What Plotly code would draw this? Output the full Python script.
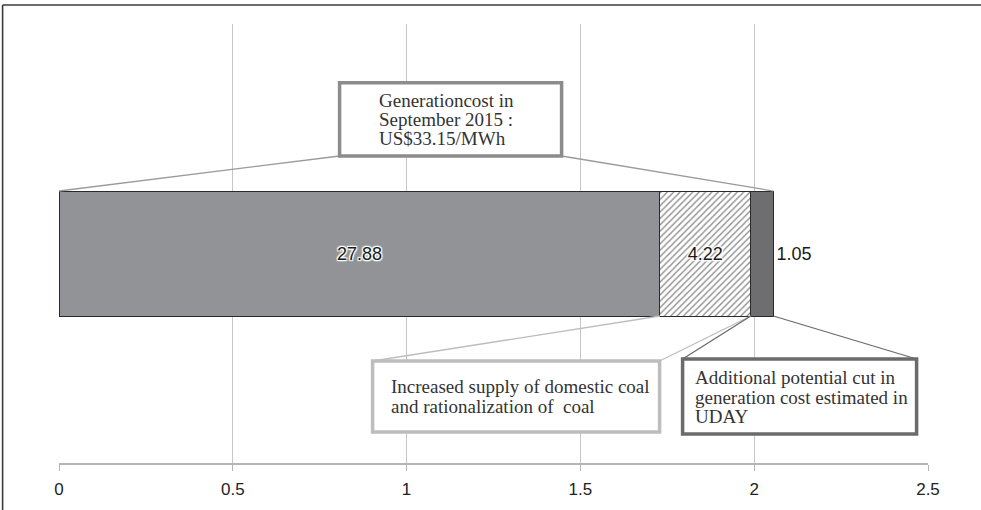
import plotly.graph_objects as go

# Generation cost breakdown (US$/MWh)
segment_names = [
    "Generation cost",
    "Increased supply of domestic coal and rationalization of coal",
    "Additional potential cut in generation cost estimated in UDAY",
]
segment_values = [27.88, 4.22, 1.05]
segment_labels = ["27.88", "4.22", "1.05"]
tick_values = [0, 0.5, 1, 1.5, 2, 2.5]
tick_labels = ["0", "0.5", "1", "1.5", "2", "2.5"]

# conversion from US$/MWh to the axis unit
AXIS_PER_USD_MWH = 0.062

W, H = 981, 510
M_L, M_R, M_T, M_B = 59.4, 52.6, 24, 47
PLOT_W = W - M_L - M_R
PLOT_H = H - M_T - M_B
X_MAX = 2.5


def px_x(px):
    return (px - M_L) / PLOT_W * X_MAX


def px_y(py):
    return (H - M_B - py) / PLOT_H


bar_y = 0.4772
bar_w = 0.2847
bar_top = bar_y + bar_w / 2
bar_bot = bar_y - bar_w / 2

scaled = [v * AXIS_PER_USD_MWH for v in segment_values]
ends = []
acc = 0.0
for s in scaled:
    acc += s
    ends.append(acc)

fig = go.Figure()

fills = ["#929396", "white", "#6e6e70"]
patterns = [None, dict(shape="/", fgcolor="#1a1a1a", bgcolor="white", size=4.5, solidity=0.3), None]
text_pos = ["inside", "inside", "outside"]
halo = ("1px 1px 1px white, -1px -1px 1px white, 1px -1px 1px white, "
        "-1px 1px 1px white, 0 0 2px white, 0 0 3px white")

for name, val, lab, fill, pat, tp in zip(segment_names, scaled, segment_labels, fills, patterns, text_pos):
    marker = dict(color=fill, line=dict(color="#2a2a2a", width=1))
    if pat:
        marker["pattern"] = pat
    fig.add_trace(go.Bar(
        name=name, orientation="h", x=[val], y=[bar_y], width=bar_w,
        marker=marker, text=[lab], textposition=tp,
        insidetextanchor="middle", constraintext="none",
        textfont=dict(family="Liberation Sans, Arial", size=18, color="#1a1a1a",
                      shadow=halo if tp == "inside" else "none"),
        outsidetextfont=dict(family="Liberation Sans, Arial", size=18, color="#1a1a1a"),
        hoverinfo="skip", showlegend=False, cliponaxis=False,
    ))

shapes = []

# callout boxes (pixel positions converted to axis units)
boxes = [
    dict(x0=340, x1=562, y0=82.7, y1=156, color="#8c8c8c"),
    dict(x0=373, x1=660, y0=361, y1=432, color="#bdbdbd"),
    dict(x0=683, x1=917, y0=359, y1=434, color="#6b6b6b"),
]

# leader lines from the boxes to the bar corners
leader = [
    (boxes[0]["x0"], boxes[0]["y1"], 0.0, bar_top, "#9a9a9a"),
    (boxes[0]["x1"], boxes[0]["y1"], ends[2], bar_top, "#9a9a9a"),
    (boxes[1]["x0"], boxes[1]["y0"], ends[0], bar_bot, "#bdbdbd"),
    (boxes[1]["x1"], boxes[1]["y0"], ends[1], bar_bot, "#bdbdbd"),
    (boxes[2]["x0"], boxes[2]["y0"], ends[1], bar_bot, "#6b6b6b"),
    (boxes[2]["x1"], boxes[2]["y0"], ends[2], bar_bot, "#6b6b6b"),
]
for bx, by, tx, ty, c in leader:
    shapes.append(dict(type="line", xref="x", yref="y", x0=px_x(bx), y0=px_y(by),
                       x1=tx, y1=ty, line=dict(color=c, width=1.3)))

for b in boxes:
    shapes.append(dict(type="rect", xref="x", yref="y",
                       x0=px_x(b["x0"]), x1=px_x(b["x1"]),
                       y0=px_y(b["y1"]), y1=px_y(b["y0"]),
                       fillcolor="white", line=dict(color=b["color"], width=3.5)))

# outer frame (top and left edges)
fx0 = (3 - M_L) / PLOT_W
fy0 = (H - M_B - 5) / PLOT_H
shapes.append(dict(type="line", xref="paper", yref="paper", x0=fx0, y0=fy0,
                   x1=(W + 5 - M_L) / PLOT_W, y1=fy0, line=dict(color="#3a3a3a", width=1.6)))
shapes.append(dict(type="line", xref="paper", yref="paper", x0=fx0, y0=fy0,
                   x1=fx0, y1=(H - M_B - H - 5) / PLOT_H, line=dict(color="#3a3a3a", width=1.6)))

serif = "Liberation Serif, Times New Roman, serif"
callout_lines = [
    (377.7, [(100, "Generationcost in"), (119, "September 2015 :"), (138, "US$33.15/MWh")]),
    (389, [(386, "Increased supply of domestic coal"), (406, "and rationalization of  coal")]),
    (693, [(377.5, "Additional potential cut in"), (397, "generation cost estimated in"), (416.5, "UDAY")]),
]
annotations = []
for lx, lines in callout_lines:
    for ly, txt in lines:
        annotations.append(dict(x=px_x(lx), y=px_y(ly), xref="x", yref="y", text=txt,
                                showarrow=False, xanchor="left", yanchor="middle",
                                font=dict(family=serif, size=19, color="#333")))

fig.update_layout(
    width=W, height=H, barmode="stack",
    margin=dict(l=M_L, r=M_R, t=M_T, b=M_B, pad=0),
    paper_bgcolor="white", plot_bgcolor="white",
    shapes=shapes, annotations=annotations,
    xaxis=dict(range=[0, X_MAX], tickvals=tick_values, ticktext=tick_labels,
               showgrid=True, gridcolor="#c6c6c6", gridwidth=1,
               zeroline=False, showline=True, linecolor="#b5b5b5", linewidth=1.5,
               ticks="outside", ticklen=6, tickcolor="#b5b5b5", ticklabelstandoff=4,
               tickfont=dict(family="Liberation Sans, Arial", size=17, color="#222")),
    yaxis=dict(range=[0, 1], visible=False, fixedrange=True),
    uniformtext=dict(mode=False),
)

fig.write_html("out.html")
